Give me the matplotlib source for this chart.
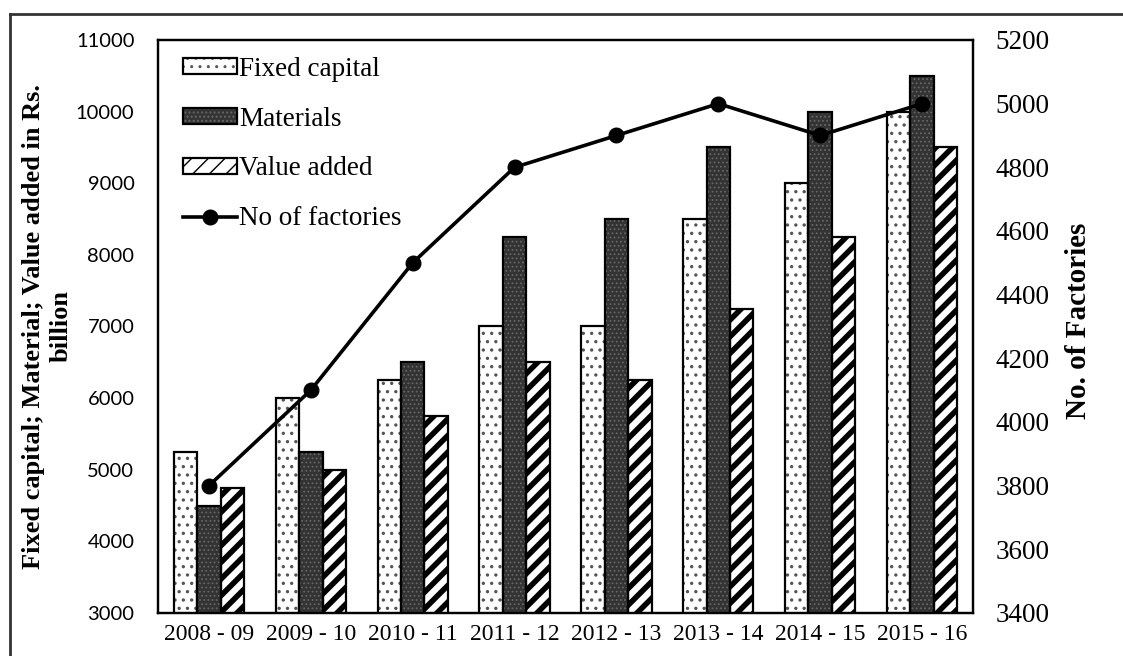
import matplotlib
matplotlib.use('Agg')

import matplotlib.pyplot as plt
from matplotlib.lines import Line2D
from matplotlib.legend_handler import HandlerTuple
import numpy as np

years = ['2008 - 09', '2009 - 10', '2010 - 11', '2011 - 12',
         '2012 - 13', '2013 - 14', '2014 - 15', '2015 - 16']
fixed_capital = [5250, 6000, 6250, 7000, 7000, 8500, 9000, 10000]
materials = [4500, 5250, 6500, 8250, 8500, 9500, 10000, 10500]
value_added = [4750, 5000, 5750, 6500, 6250, 7250, 8250, 9500]
factories = [3800, 4100, 4500, 4800, 4900, 5000, 4900, 5000]

serif = ['Liberation Serif', 'DejaVu Serif']
sans = ['Lato', 'DejaVu Sans']


def hatched_bar(ax, x, vals, width, face, hatch, hatch_color, hatch_lw):
    """draw one bar series: a filled/hatched layer plus a black outline layer"""
    with plt.rc_context({'hatch.linewidth': hatch_lw}):
        base = ax.bar(x, vals, width, color=face, edgecolor=hatch_color,
                      hatch=hatch, linewidth=0, zorder=2)
    for p in base:
        if hasattr(p, 'set_hatch_linewidth'):
            p.set_hatch_linewidth(hatch_lw)
    outline = ax.bar(x, vals, width, facecolor='none', edgecolor='black',
                     linewidth=1.6, zorder=3)
    return (base[0], outline[0])


fig = plt.figure(figsize=(11.23, 6.56), dpi=100)
ax = fig.add_axes([158 / 1123, 43 / 656, 815 / 1123, 573 / 656])
ax2 = ax.twinx()

x = np.arange(len(years))
w = 0.23

h_fixed = hatched_bar(ax, x - w, fixed_capital, w, 'white', '..', '#555555', 1.2)
h_mat = hatched_bar(ax, x, materials, w, '#333333', '....', '#666666', 0.8)
h_va = hatched_bar(ax, x + w, value_added, w, 'white', '//', 'black', 4.0)

line, = ax2.plot(x, factories, color='black', linewidth=2.6, marker='o',
                 markersize=10.5, zorder=5)

ax.set_xlim(-0.5, len(years) - 0.5)
ax.set_ylim(3000, 11000)
ax.set_yticks(np.arange(3000, 11001, 1000))
ax2.set_ylim(3400, 5200)
ax2.set_yticks(np.arange(3400, 5201, 200))
ax.set_xticks(x)
ax.set_xticklabels(years, fontfamily=serif, fontsize=17)

for lab in ax.get_yticklabels():
    lab.set_fontfamily(sans)
    lab.set_fontsize(14.5)
for lab in ax2.get_yticklabels():
    lab.set_fontfamily(serif)
    lab.set_fontsize(19.5)

ax.tick_params(axis='y', length=0, pad=17)
ax.tick_params(axis='x', length=0, pad=8)
ax2.tick_params(axis='y', length=0, pad=16)

for a in (ax, ax2):
    for s in a.spines.values():
        s.set_linewidth(1.6)

ax.set_ylabel('Fixed capital; Material; Value added in Rs.\nbillion',
              fontfamily=serif, fontsize=19, fontweight='bold',
              linespacing=1.25)
ax.yaxis.set_label_coords(-0.105, 0.5)
ax2.set_ylabel('No. of Factories', fontfamily=serif, fontsize=21,
               fontweight='bold')
ax2.yaxis.set_label_coords(1.113, 0.51)

leg = ax2.legend([h_fixed, h_mat, h_va, line],
                 ['Fixed capital', 'Materials', 'Value added', 'No of factories'],
                 handler_map={tuple: HandlerTuple(ndivide=1)},
                 loc='upper left', bbox_to_anchor=(0.031, 0.971), frameon=False,
                 prop={'family': serif, 'size': 19.5}, handlelength=2.0,
                 handleheight=0.5, handletextpad=0.05, labelspacing=0.92,
                 borderaxespad=0, borderpad=0)
leg.set_zorder(10)

# scanned page frame
fig.add_artist(Line2D([10 / 1123, 1], [1 - 14 / 656, 1 - 14 / 656],
                      color='#333333', linewidth=2, transform=fig.transFigure))
fig.add_artist(Line2D([10 / 1123, 10 / 1123], [0, 1 - 14 / 656],
                      color='#333333', linewidth=2, transform=fig.transFigure))

fig.savefig('out.png', dpi=100)
